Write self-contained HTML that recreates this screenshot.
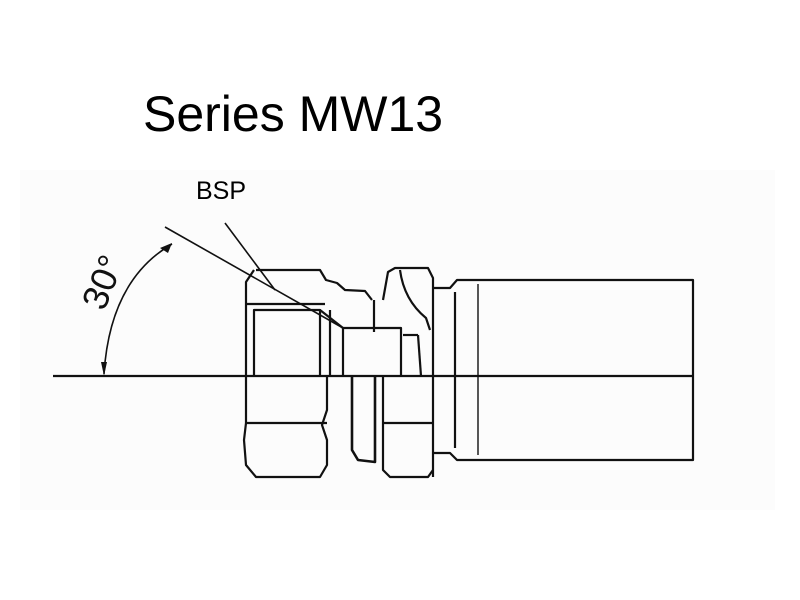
<!DOCTYPE html>
<html><head><style>
body{margin:0;background:#fff;}
svg{display:block}
</style></head><body>
<svg width="800" height="600" viewBox="0 0 800 600" xmlns="http://www.w3.org/2000/svg">
<rect width="800" height="600" fill="#fff"/>
<rect x="20" y="170" width="755" height="340" fill="#fcfcfc"/>
<text x="143" y="131" font-family="Liberation Sans, sans-serif" font-size="50" fill="#000">Series MW13</text>
<text x="196" y="199" font-family="Liberation Sans, sans-serif" font-size="25" fill="#000">BSP</text>
<text transform="translate(104,312) rotate(-68)" font-family="Liberation Sans, sans-serif" font-size="36" fill="#111">30°</text>
<g fill="none" stroke="#111" stroke-width="2.2" stroke-linejoin="round">
<line x1="53" y1="376" x2="692" y2="376"/>
<line x1="165" y1="227" x2="343" y2="328" stroke-width="1.6"/>
<line x1="225" y1="223" x2="275" y2="290" stroke-width="1.6"/>
<path d="M104 374 Q110 280 172 244" stroke-width="1.6"/>
<path d="M254 270 L246 282 L246 423 L244 440 L246 465 L256 477 L320 477 L327 465 L327 440 L322 425 L327 410 L327 376"/>
<path d="M256 270 L320 270 L326 280 L337 283 L345 290 L365 291 L372 300"/>
<line x1="246" y1="423" x2="327" y2="423"/>
<line x1="246" y1="304" x2="325" y2="304"/>
<polyline points="254,376 254,310 320,310 320,376"/>
<line x1="330" y1="310" x2="330" y2="376"/>
<polyline points="343,376 343,328 401,328 401,376"/>
<line x1="320" y1="310" x2="343" y2="328"/>
<line x1="403" y1="335" x2="418" y2="335"/>
<path d="M352 376 L352 450 L358 460 L375 462 L375 376" stroke-width="2.6"/>
<line x1="374" y1="300" x2="374" y2="332"/>
<path d="M383 300 L388 272 L395 268 L428 268 L433 278 L433 477"/>
<path d="M383 376 L383 470 L390 477 L428 477 L433 470"/>
<line x1="383" y1="423" x2="433" y2="423"/>
<path d="M400 270 Q404 300 426 318 L430 330"/>
<path d="M418 335 L421 376"/>
<polyline points="433,288 450,288 457,280 693,280 693,460 457,460 450,453 433,453"/>
<line x1="455" y1="292" x2="455" y2="448"/>
<line x1="478" y1="284" x2="478" y2="455" stroke-width="1.4"/>
</g>
<g fill="#111">
<polygon points="101,362 107,362 104,376"/>
<polygon points="160,248 172,243 168,253"/>
</g>
</svg>
</body></html>
